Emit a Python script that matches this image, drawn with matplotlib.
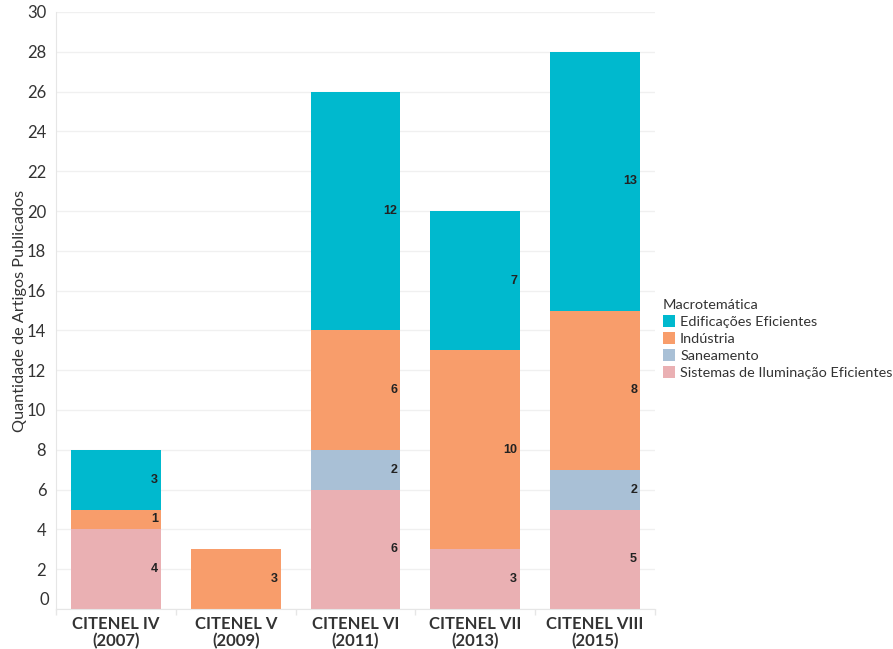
import matplotlib
matplotlib.use("Agg")
import matplotlib.pyplot as plt
import numpy as np
from matplotlib.patches import Patch

categories = ["CITENEL IV\n(2007)", "CITENEL V\n(2009)", "CITENEL VI\n(2011)",
              "CITENEL VII\n(2013)", "CITENEL VIII\n(2015)"]
series_names = ["Sistemas de Iluminação Eficientes", "Saneamento", "Indústria",
                "Edificações Eficientes"]
sistemas = [4, 0, 6, 3, 5]
saneamento = [0, 0, 2, 0, 2]
industria = [1, 3, 6, 10, 8]
edificacoes = [3, 0, 12, 7, 13]
colors = ["#EAB0B3", "#A9C0D6", "#F89D6B", "#00B9CE"]
y_ticks = list(range(0, 31, 2))

fig = plt.figure(figsize=(8.93, 6.49), dpi=100)
ax = fig.add_axes([56/893, 1 - 609/649, (655-56)/893, (609-12)/649])

x = np.arange(len(categories))
width = 0.75
bottom = np.zeros(len(categories))
all_series = [sistemas, saneamento, industria, edificacoes]
for vals, col in zip(all_series, colors):
    vals = np.array(vals, dtype=float)
    ax.bar(x, vals, width, bottom=bottom, color=col, linewidth=0, zorder=2)
    for xi, v, b in zip(x, vals, bottom):
        if v > 0:
            ax.text(xi + width/2 - 0.025, b + v/2, f"{int(v)}", ha="right", va="center",
                    fontsize=9, fontweight="bold", family="Liberation Sans",
                    color="#222222", zorder=3)
    bottom += vals

ax.set_xlim(-0.5, len(categories) - 0.5)
ax.set_ylim(0, 30)
ax.set_yticks(y_ticks)
ax.set_yticklabels(["" if t == 0 else str(t) for t in y_ticks], fontsize=12,
                   family="Lato", color="#333333")
ax.annotate(str(y_ticks[0]), xy=(0, y_ticks[0]), xycoords=("axes fraction", "data"),
            xytext=(-7, 9), textcoords="offset pixels", ha="right", va="center",
            fontsize=12, family="Lato", color="#333333")
ax.set_xticks(x)
ax.set_xticklabels(categories, fontsize=12, fontweight="bold", family="Lato", color="#333333",
                   linespacing=1.05)
ax.set_xticks(np.arange(-0.5, len(categories)), minor=True)
ax.tick_params(axis="x", which="major", length=0, pad=5)
ax.tick_params(axis="x", which="minor", length=4, color="#e6e6e6", width=1)
ax.tick_params(axis="y", length=0, pad=7)
ax.grid(axis="y", color="#f0f0f0", linewidth=1, zorder=0)
for s in ["top", "right"]:
    ax.spines[s].set_visible(False)
for s in ["left", "bottom"]:
    ax.spines[s].set_color("#e6e6e6")
ax.set_ylabel("Quantidade de Artigos Publicados", fontsize=11.7, family="Lato", color="#333333")
ax.yaxis.set_label_coords(-29/599, 0.5)

handles = [Patch(facecolor=c, edgecolor="none") for c in colors[::-1]]
leg = fig.legend(handles, series_names[::-1], title="Macrotemática",
                 loc="upper left", bbox_to_anchor=(657/893, 1 - 293/649),
                 frameon=False, prop={"family": "Lato", "size": 10.4},
                 title_fontproperties={"family": "Lato", "size": 10.4},
                 handlelength=0.85, handleheight=0.85, handletextpad=0.35,
                 labelspacing=0.3, borderaxespad=0, alignment="left")
for t in leg.get_texts():
    t.set_color("#333333")
leg.get_title().set_color("#333333")

fig.savefig("out.png", dpi=100)
